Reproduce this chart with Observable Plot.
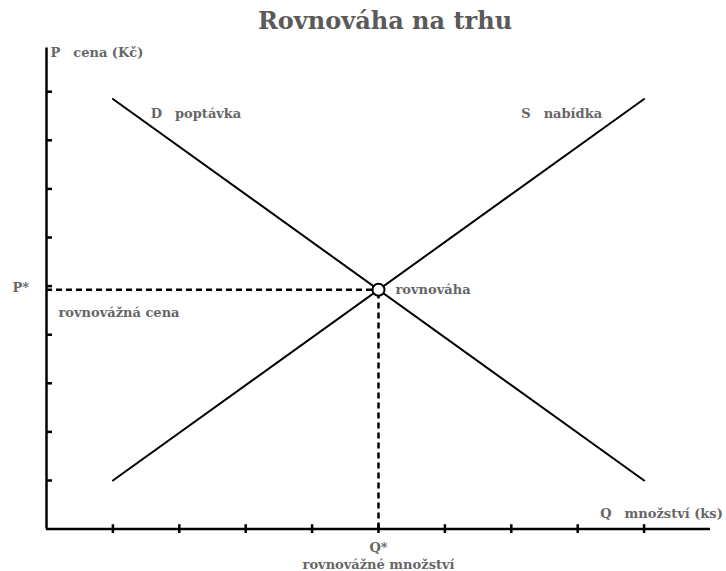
<!DOCTYPE html>
<html>
<head>
<meta charset="utf-8">
<script src="https://cdn.jsdelivr.net/npm/d3@7"></script>
<script src="https://cdn.jsdelivr.net/npm/@observablehq/plot@0.6"></script>
<style>
  html, body { margin: 0; padding: 0; background: #fff; }
  #title {
    font-family: "DejaVu Serif", serif; font-weight: bold; font-size: 24px;
    color: #5a5a5a; height: 40px; line-height: 42px; text-align: center;
    padding-left: 44px; box-sizing: border-box; width: 726px;
  }
</style>
</head>
<body>
<div id="title">Rovnováha na trhu</div>
<div id="chart"></div>
<script>
const qTicks = [1, 2, 3, 4, 5, 6, 7, 8, 9];
const pTicks = [1, 2, 3, 4, 5, 6, 7, 8, 9];
const demand = [{q: 1, p: 8.85}, {q: 9, p: 1}];
const supply = [{q: 1, p: 1}, {q: 9, p: 8.85}];
const qStar = 5;
const pStar = 4.925;
const xMax = 10;
const yMax = 9.9;

const font = "DejaVu Serif";
const grey = "#666";
const lbl = (data, opts) => Plot.text(data, {fontFamily: font, fontWeight: "bold", fontSize: 13, fill: grey, ...opts});

const chart = Plot.plot({
  width: 726,
  height: 531,
  marginLeft: 46,
  marginRight: 16,
  marginTop: 2.6,
  marginBottom: 42.4,
  x: {domain: [0, 10], axis: null},
  y: {domain: [0, 10], axis: null},
  marks: [
    // axes
    Plot.ruleY([0], {x1: 0, x2: xMax, strokeWidth: 2.5}),
    Plot.ruleX([0], {y1: 0, y2: yMax, strokeWidth: 2.5}),
    Plot.ruleX(qTicks, {x: d => d, y1: -0.09, y2: 0.09, strokeWidth: 2.5}),
    Plot.ruleY(pTicks, {y: d => d, x1: 0, x2: 0.09, strokeWidth: 2.5}),
    // dashed guides
    Plot.ruleY([pStar], {x1: 0, x2: qStar, strokeWidth: 2.5, strokeDasharray: "6,4"}),
    Plot.ruleX([qStar], {y1: 0, y2: pStar, strokeWidth: 2.5, strokeDasharray: "6,4"}),
    // curves
    Plot.line(demand, {x: "q", y: "p", strokeWidth: 2}),
    Plot.line(supply, {x: "q", y: "p", strokeWidth: 2}),
    Plot.dot([{q: qStar, p: pStar}], {x: "q", y: "p", r: 6, fill: "white", stroke: "black", strokeWidth: 2}),
    // labels
    lbl(["P\u2003cena (Kč)"], {x: 0, y: 9.79, text: d => d, textAnchor: "start", dx: 4}),
    lbl(["D\u2003poptávka"], {x: 1.57, y: 8.55, text: d => d, textAnchor: "start"}),
    lbl(["S\u2003nabídka"], {x: 7.15, y: 8.55, text: d => d, textAnchor: "start"}),
    lbl(["rovnováha"], {x: qStar, y: pStar, text: d => d, textAnchor: "start", dx: 17}),
    lbl(["rovnovážná cena"], {x: 0, y: pStar, text: d => d, textAnchor: "start", dx: 12, dy: 23}),
    lbl(["P*"], {x: 0, y: pStar, text: d => d, textAnchor: "start", dx: -34, dy: -2}),
    lbl(["Q*"], {x: qStar, y: 0, text: d => d, dy: 19}),
    lbl(["rovnovážné množství"], {x: qStar, y: 0, text: d => d, dy: 36}),
    lbl(["Q\u2003množství (ks)"], {x: 8.34, y: 0.32, text: d => d, textAnchor: "start"})
  ]
});
document.getElementById("chart").appendChild(chart);
</script>
</body>
</html>
